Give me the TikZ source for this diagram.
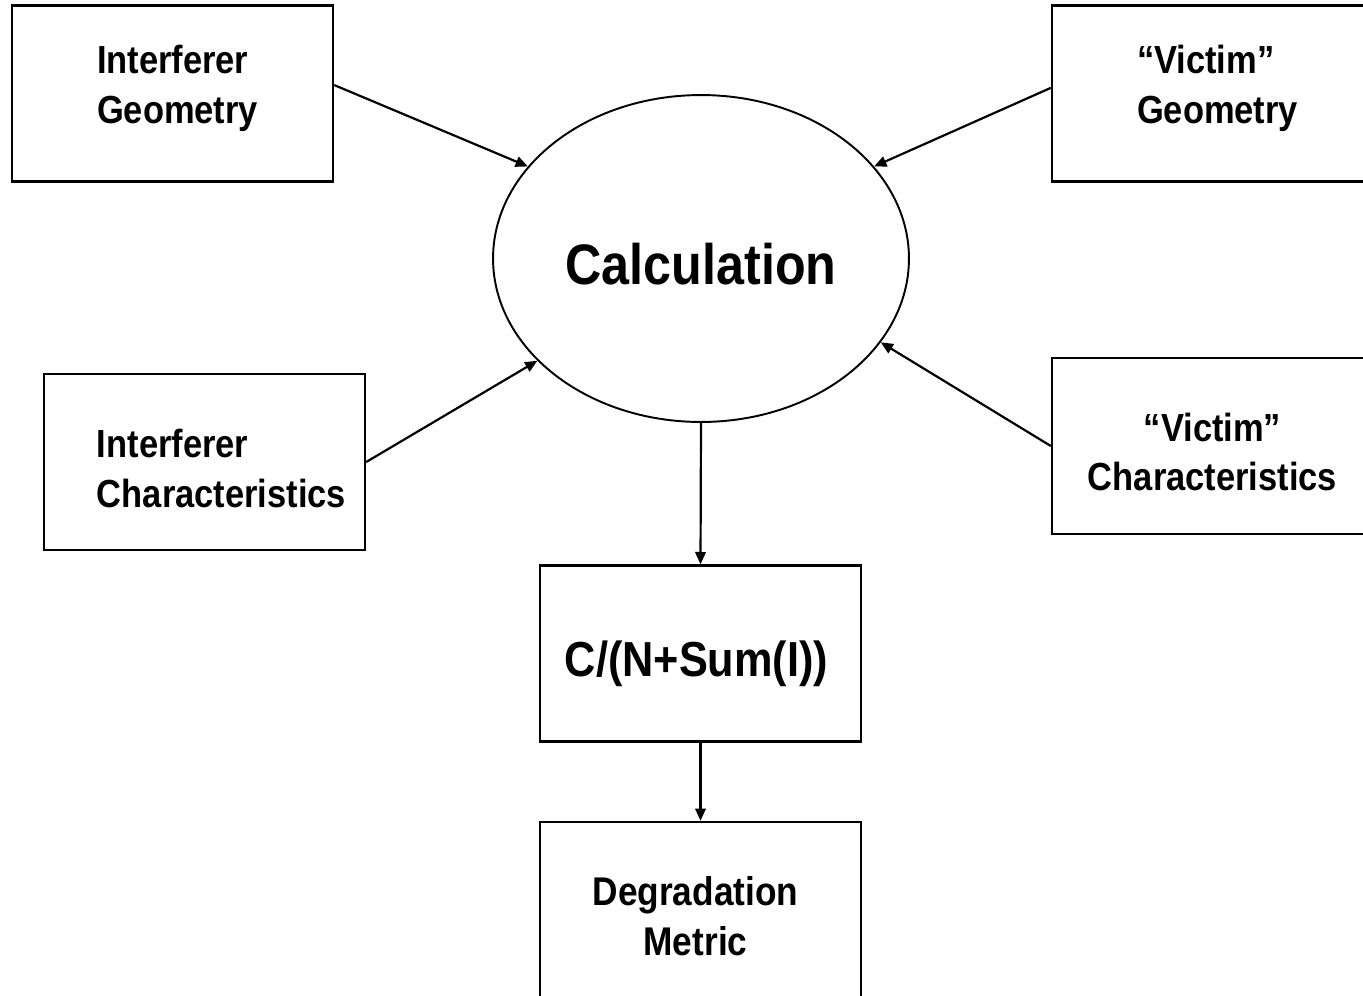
\documentclass[tikz,border=0pt]{standalone}
\usepackage{fontspec}
\setmainfont{Liberation Sans}[FakeStretch=0.88]
\usetikzlibrary{arrows.meta,shapes.geometric}

\begin{document}
\begin{tikzpicture}[x=0.02cm, y=-0.02cm, >={Triangle[length=7pt,width=6pt]},
    box/.style={draw, line width=1.4pt, rectangle, minimum width=6.42cm, minimum height=3.52cm, inner sep=0pt},
    lbl/.style={inner sep=0pt, font=\bfseries\fontsize{22.3}{28.3}\selectfont},
    feed/.style={->, line width=1.25pt}]
    \useasboundingbox (0,0) rectangle (1363,995);

    % Input boxes
    \node[box] (igeo) at (172.5,93.5) {};
    \node[box] (vgeo) at (1212.5,93.5) {};
    \node[box] (ichar) at (204.5,462) {};
    \node[box] (vchar) at (1212.5,446) {};
    \node[lbl, align=left] (igeo-l) at (177.5,88.5) {Interferer\\Geometry};
    \node[lbl, align=left] (vgeo-l) at (1217.5,88.5) {“Victim”\\Geometry};
    \node[lbl, align=left] (ichar-l) at (221.5,468.5) {Interferer\\Characteristics};
    \node[lbl, align=center] (vchar-l) at (1212.5,452) {“Victim”\\Characteristics};

    % Calculation
    \node[draw, ellipse, line width=1.1pt, minimum width=8.32cm, minimum height=6.54cm, inner sep=0pt] (calc) at (701,258.5) {};
    \node[lbl, font=\bfseries\fontsize{32.5}{38}\selectfont] (calc-l) at (701,264.5) {Calculation};

    % Output chain
    \node[box] (cni) at (700.5,653.5) {};
    \node[box] (metric) at (700.5,910) {};
    \node[lbl, font=\bfseries\fontsize{28}{34}\selectfont] (cni-l) at (696.5,663.5) {C/(N+Sum(I))};
    \node[lbl, align=center, font=\bfseries\fontsize{22.8}{28.3}\selectfont] (metric-l) at (695.5,916) {Degradation\\Metric};

    % Arrows
    \draw[feed] (igeo.3) -- (calc.152);
    \draw[feed] (vgeo.178) -- (calc.28);
    \draw[feed] (ichar.east) -- (calc.212);
    \draw[feed] (vchar.west) -- (calc.-25);
    \draw[feed] (calc.south) -- (cni.north);
    \draw[feed] (cni.south) -- (metric.north);

\end{tikzpicture}
\end{document}
